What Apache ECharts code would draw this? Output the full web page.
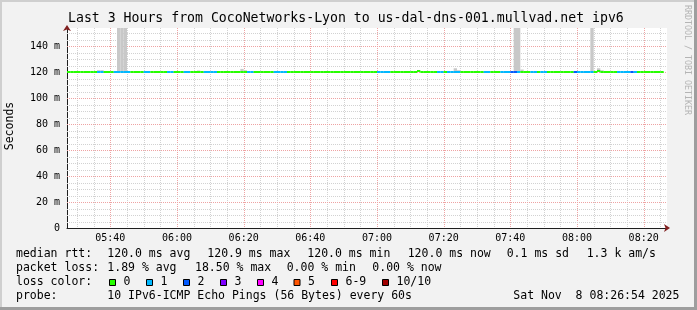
<!DOCTYPE html>
<html><head><meta charset="utf-8">
<script src="https://cdn.jsdelivr.net/npm/echarts@6/dist/echarts.min.js"></script>
<style>html,body{margin:0;padding:0;background:#f2f2f2}#c{width:697px;height:310px}</style>
</head><body><div id="c"></div>
<script>
// ---------- data ----------
const titleText = 'Last 3 Hours from CocoNetworks-Lyon to us-dal-dns-001.mullvad.net ipv6';
const startTime = '05:27';           // left edge of the 3-hour window
const windowMinutes = 180;
const xTickLabels = ['05:40','06:00','06:20','06:40','07:00','07:20','07:40','08:00','08:20'];
const yTickValues = [0,20,40,60,80,100,120,140];
const yMax = 154;

// one sample per minute from 05:27 (lost pings per 10)
const lossValues = [
  0,0,0,0,0,0,0,0,0,1,
  1,0,0,0,1,1,1,1,1,0,
  0,0,0,1,1,0,0,0,0,0,
  1,1,0,0,0,1,1,0,0,0,
  0,1,1,1,1,0,0,0,0,0,
  0,0,0,0,1,1,0,0,0,0,
  0,0,1,1,1,1,0,0,0,0,
  0,0,0,0,0,0,0,0,0,0,
  0,0,0,0,0,0,0,0,0,0,
  0,0,0,1,1,1,1,0,0,0,
  0,0,0,0,0,0,0,0,0,0,
  0,1,1,0,1,1,1,1,0,0,
  0,0,0,0,0,1,1,0,0,0,
  1,1,1,2,2,1,0,0,0,1,
  1,0,1,1,0,0,0,0,0,0,
  0,0,2,1,1,1,1,1,0,0,
  0,0,0,0,0,1,1,1,1,2,
  1,0,0,0,0,0,0,0,0
];
// median rtt in ms
const medianRtt = [
  120,120,120,120,120,120,120,120,120,120,
  120,120,120,120,120,120,120,120,120,120,
  120,120,120,120,120,120,120,120,120,120,
  120,120,120,120,120,120,120,120,120,120,
  120,120,120,120,120,120,120,120,120,120,
  120,120,120,120,120,120,120,120,120,120,
  120,120,120,120,120,120,120,120,120,120,
  120,120,120,120,120,120,120,120,120,120,
  120,120,120,120,120,120,120,120,120,120,
  120,120,120,120,120,120,120,120,120,120,
  120,120,120,120,120,120.9,120,120,120,120,
  120,120,120,120,120,120,120,120,120,120,
  120,120,120,120,120,120,120,120,120,120,
  120,120,120,120,120,120,120,120,120,120,
  120,120,120,120,120,120,120,120,120,120,
  120,120,120,120,120,120,120,120,120,120.9,
  120,120,120,120,120,120,120,120,120,120,
  120,120,120,120,120,120,120,120,120
];
// slowest ping (top of the smoke) in ms
const smokeMax = [
  120.3,120.3,120.3,120.3,120.3,120.3,120.3,120.3,120.3,121.5,
  121.5,120.3,120.3,120.3,120.3,170,170,170,120.3,120.3,
  120.3,120.3,120.3,120.3,120.3,120.3,120.3,120.3,120.3,120.3,
  120.3,120.3,120.3,120.3,120.3,120.3,120.3,120.3,120.3,121.3,
  120.3,120.3,120.3,120.3,120.3,120.3,120.3,120.3,120.3,120.3,
  120.3,120.3,122.5,121.5,120.3,120.3,120.3,120.3,120.3,120.3,
  120.3,120.3,120.3,120.3,120.3,120.3,120.3,120.3,120.3,120.3,
  120.3,120.3,120.3,120.3,120.3,120.3,120.3,120.3,120.3,120.3,
  120.3,120.3,120.3,120.3,120.3,120.3,120.3,120.3,120.3,120.3,
  120.3,120.3,120.3,120.3,120.3,120.3,120.3,120.3,120.3,120.3,
  120.3,120.3,120.3,120.3,120.3,120.3,120.3,120.3,120.3,120.3,
  120.3,120.3,120.3,120.3,120.3,120.3,123,121.5,120.3,120.3,
  120.3,120.3,120.3,120.3,120.3,120.3,120.3,120.3,120.3,120.3,
  120.3,120.3,120.3,120.3,170,170,122,120.3,120.3,120.3,
  120.3,120.3,120.3,120.3,120.3,120.3,120.3,120.3,120.3,120.3,
  120.3,120.3,120.3,120.3,120.3,120.3,120.3,170,120.3,123,
  121.5,120.3,120.3,120.3,120.3,120.3,120.3,120.3,120.3,120.3,
  120.3,120.3,120.3,120.3,120.3,120.3,120.3,120.3,120.3
];
const lossColorLabels = ['0','1','2','3','4','5','6-9','10/10'];
const lossColors = ['#26ff00','#00b8ff','#0059ff','#7e00ff','#ff00ff','#ff5500','#ff0000','#a10000'];
const medianStats = ['120.0 ms avg','120.9 ms max','120.0 ms min','120.0 ms now','0.1 ms sd','1.3 k am/s'];
const lossStats = ['1.89 % avg','18.50 % max','0.00 % min','0.00 % now'];
const probeText = '10 IPv6-ICMP Echo Pings (56 Bytes) every 60s';
const dateText = 'Sat Nov  8 08:26:54 2025';

// ---------- layout ----------
const FONT = "'DejaVu Sans Mono', monospace";
const medianStatX = [107.3,207.3,307.3,407.7,506.7,586.7];
const lossStatX = [107.3,195,286.7,372.3];
const boxX = [109,146,183,220,257,293.5,331,382];
const lineY = [254.3,268.3,282.3,296.3];

const toMin = s => { const p = s.split(':'); return (+p[0]) * 60 + (+p[1]); };
const t0 = toMin(startTime);
const xMajor = xTickLabels.map(l => toMin(l) - t0);
const labelAt = {};
xTickLabels.forEach((l, k) => { labelAt[xMajor[k]] = l; });
const gridData = [];
for (let t = Math.ceil(t0 / 5) * 5; t < t0 + windowMinutes; t += 5) {
  const v = t - t0;
  if (xMajor.indexOf(v) < 0) gridData.push([v, 0]);
}
xMajor.forEach(v => gridData.push([v, 1]));
for (let v = 5; v < yMax; v += 5) if (v % 20 !== 0) gridData.push([v, 2]);
yTickValues.filter(v => v > 0).forEach(v => gridData.push([v, 3]));

const lossIdx = n => n <= 5 ? n : (n < 10 ? 6 : 7);

const chart = echarts.init(document.getElementById('c'), null, {renderer: 'canvas'});

const graphic = [
  {type:'rect', shape:{x:0,y:0,width:697,height:2}, style:{fill:'#cfcfcf'}, silent:true},
  {type:'rect', shape:{x:0,y:0,width:2,height:310}, style:{fill:'#cfcfcf'}, silent:true},
  {type:'rect', shape:{x:694,y:0,width:3,height:310}, style:{fill:'#9e9e9e'}, silent:true},
  {type:'rect', shape:{x:0,y:307,width:697,height:3}, style:{fill:'#9e9e9e'}, silent:true},
  {type:'text', x:10, y:126, rotation:Math.PI/2, style:{text:'Seconds', font:'11.5px ' + FONT, fill:'#000', textAlign:'center', textVerticalAlign:'middle'}},
  {type:'text', x:687, y:60, rotation:-Math.PI/2, style:{text:'RRDTOOL / TOBI OETIKER', font:'8.3px ' + FONT, fill:'#b4b4b4', textAlign:'center', textVerticalAlign:'middle'}},
  {type:'text', x:16, y:lineY[0], style:{text:'median rtt:', font:'11.5px ' + FONT, fill:'#000', textVerticalAlign:'middle'}},
  {type:'text', x:16, y:lineY[1], style:{text:'packet loss:', font:'11.5px ' + FONT, fill:'#000', textVerticalAlign:'middle'}},
  {type:'text', x:16, y:lineY[2], style:{text:'loss color:', font:'11.5px ' + FONT, fill:'#000', textVerticalAlign:'middle'}},
  {type:'text', x:16, y:lineY[3], style:{text:'probe:', font:'11.5px ' + FONT, fill:'#000', textVerticalAlign:'middle'}},
  {type:'text', x:107.3, y:lineY[3], style:{text:probeText, font:'11.5px ' + FONT, fill:'#000', textVerticalAlign:'middle'}},
  {type:'text', x:513.3, y:lineY[3], style:{text:dateText, font:'11.5px ' + FONT, fill:'#000', textVerticalAlign:'middle'}}
];
medianStats.forEach((s, k) => graphic.push({type:'text', x:medianStatX[k], y:lineY[0], style:{text:s, font:'11.5px ' + FONT, fill:'#000', textVerticalAlign:'middle'}}));
lossStats.forEach((s, k) => graphic.push({type:'text', x:lossStatX[k], y:lineY[1], style:{text:s, font:'11.5px ' + FONT, fill:'#000', textVerticalAlign:'middle'}}));
lossColorLabels.forEach((s, k) => {
  graphic.push({type:'rect', shape:{x:boxX[k] + 0.5, y:279.5, width:6, height:6}, style:{fill:lossColors[k], stroke:'#000', lineWidth:1}});
  graphic.push({type:'text', x:boxX[k] + 14.5, y:lineY[2], style:{text:s, font:'11.5px ' + FONT, fill:'#000', textVerticalAlign:'middle'}});
});

const option = {
  animation: false,
  backgroundColor: '#f2f2f2',
  title: {text: titleText, left: 68, top: 12, padding: 0,
    textStyle: {fontFamily: FONT, fontSize: 13.2, fontWeight: 'normal', color: '#000', lineHeight: 14}},
  grid: {left: 67, top: 28, width: 600, height: 200, show: true, backgroundColor: '#ffffff', borderWidth: 0},
  xAxis: [
    {type: 'value', min: 0, max: windowMinutes, position: 'bottom',
      axisLine: {show: true, lineStyle: {color: '#1f1f1f', width: 1}},
      axisTick: {show: false}, splitLine: {show: false},
      axisLabel: {customValues: xMajor, formatter: v => labelAt[v] || '', fontFamily: FONT, fontSize: 10, color: '#000', margin: 5}},
    {type: 'value', min: 0, max: windowMinutes, position: 'bottom',
      axisLine: {show: true, symbol: ['none', 'arrow'], symbolSize: [6, 6], symbolOffset: [0, 3], lineStyle: {color: '#801f1f', width: 0}},
      axisTick: {show: false}, splitLine: {show: false}, axisLabel: {show: false}}
  ],
  yAxis: [
    {type: 'value', min: 0, max: yMax, interval: 20, position: 'left',
      axisLine: {show: true, lineStyle: {color: '#1f1f1f', width: 1}},
      axisTick: {show: false}, splitLine: {show: false},
      axisLabel: {showMaxLabel: false, formatter: v => v === 0 ? '0' : v + ' m', fontFamily: FONT, fontSize: 10, color: '#000', margin: 7}},
    {type: 'value', min: 0, max: yMax, position: 'left',
      axisLine: {show: true, symbol: ['none', 'arrow'], symbolSize: [6, 6], symbolOffset: [0, 3], lineStyle: {color: '#801f1f', width: 0}},
      axisTick: {show: false}, splitLine: {show: false}, axisLabel: {show: false}}
  ],
  graphic: graphic,
  series: [
    {type: 'custom', name: 'grid', silent: true, z: 1, data: gridData,
      renderItem: function (params, api) {
        const v = api.value(0), kind = api.value(1), cs = params.coordSys;
        let shape;
        if (kind < 2) {
          const x = Math.round(api.coord([v, 0])[0]) + 0.5;
          shape = {x1: x, y1: cs.y, x2: x, y2: cs.y + cs.height};
        } else {
          const y = Math.round(api.coord([0, v])[1]) + 0.5;
          shape = {x1: cs.x, y1: y, x2: cs.x + cs.width, y2: y};
        }
        const major = kind === 1 || kind === 3;
        return {type: 'line', shape: shape, style: {stroke: major ? '#eea3a3' : '#d2d2d2', lineWidth: 1, lineDash: [1, 1]}};
      }},
    {type: 'custom', name: 'smoke', silent: true, z: 2,
      data: smokeMax.map((m, i) => [i, m, medianRtt[i]]),
      renderItem: function (params, api) {
        const i = api.value(0), cs = params.coordSys;
        const p0 = api.coord([i, api.value(1)]), p1 = api.coord([i + 1, api.value(2)]);
        const y0 = Math.max(p0[1], cs.y);
        return {type: 'rect', shape: {x: p0[0], y: y0, width: p1[0] - p0[0], height: p1[1] - y0}, style: {fill: '#c8c8c8'}};
      }},
    {type: 'custom', name: 'median rtt', silent: true, z: 3,
      data: medianRtt.map((m, i) => [i, m, lossValues[i]]),
      renderItem: function (params, api) {
        const i = api.value(0);
        const p0 = api.coord([i, api.value(1)]), p1 = api.coord([i + 1, api.value(1)]);
        const y = Math.round(p0[1]) - 1;
        return {type: 'rect', shape: {x: p0[0], y: y, width: p1[0] - p0[0], height: 2}, style: {fill: lossColors[lossIdx(api.value(2))]}};
      }}
  ]
};
chart.setOption(option);
</script>
</body></html>
